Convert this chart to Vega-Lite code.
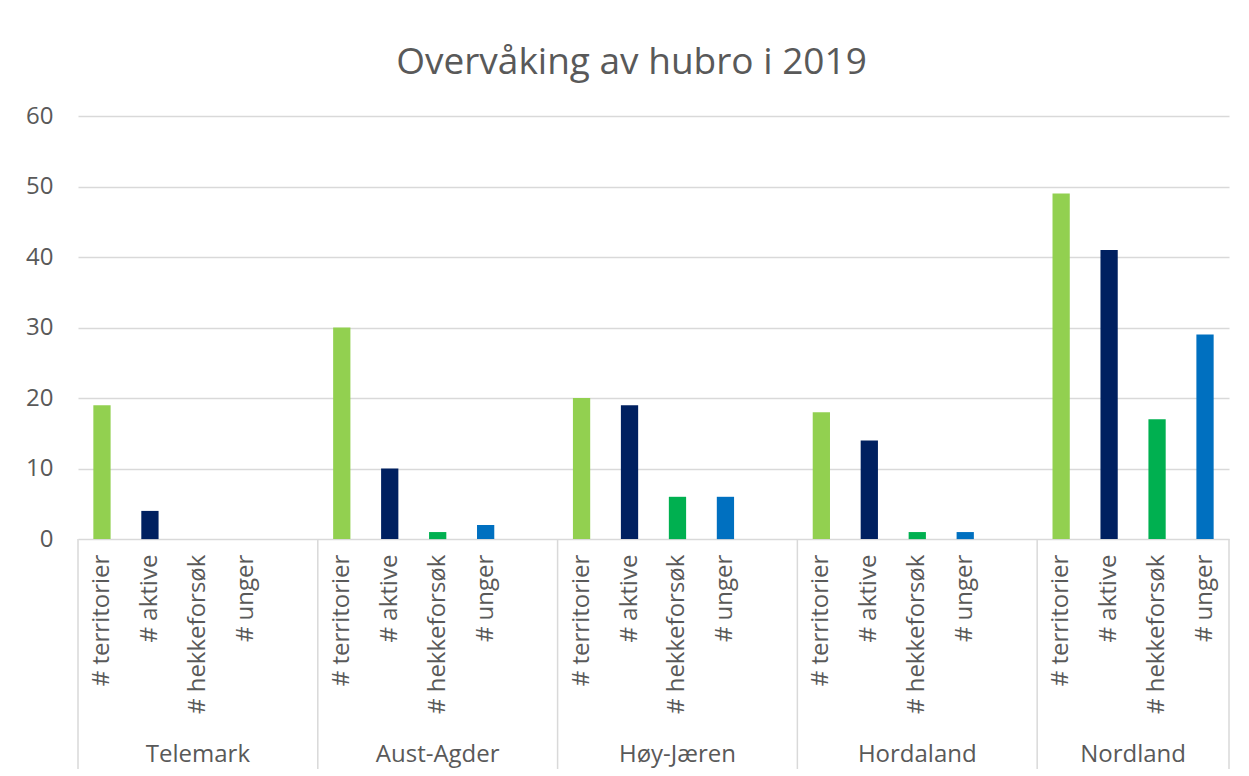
{
  "$schema": "https://vega.github.io/schema/vega-lite/v6.json",
  "width": 1151,
  "height": 653,
  "autosize": {"type": "none"},
  "padding": {"left": 78, "top": 116, "right": 20, "bottom": 7},
  "background": "white",
  "title": {
    "text": "Overvåking av hubro i 2019",
    "fontSize": 37,
    "fontWeight": "normal",
    "color": "#595959",
    "font": "Open Sans",
    "anchor": "middle",
    "offset": 22,
    "dx": -22
  },
  "config": {
    "font": "Open Sans",
    "view": {"stroke": null}
  },
  "datasets": {
    "bars": [
      {"group": "Telemark", "item": "# territorier", "slot": "Telemark|# territorier", "value": 19},
      {"group": "Telemark", "item": "# aktive", "slot": "Telemark|# aktive", "value": 4},
      {"group": "Telemark", "item": "# hekkeforsøk", "slot": "Telemark|# hekkeforsøk", "value": 0},
      {"group": "Telemark", "item": "# unger", "slot": "Telemark|# unger", "value": 0},
      {"group": "Aust-Agder", "item": "# territorier", "slot": "Aust-Agder|# territorier", "value": 30},
      {"group": "Aust-Agder", "item": "# aktive", "slot": "Aust-Agder|# aktive", "value": 10},
      {"group": "Aust-Agder", "item": "# hekkeforsøk", "slot": "Aust-Agder|# hekkeforsøk", "value": 1},
      {"group": "Aust-Agder", "item": "# unger", "slot": "Aust-Agder|# unger", "value": 2},
      {"group": "Høy-Jæren", "item": "# territorier", "slot": "Høy-Jæren|# territorier", "value": 20},
      {"group": "Høy-Jæren", "item": "# aktive", "slot": "Høy-Jæren|# aktive", "value": 19},
      {"group": "Høy-Jæren", "item": "# hekkeforsøk", "slot": "Høy-Jæren|# hekkeforsøk", "value": 6},
      {"group": "Høy-Jæren", "item": "# unger", "slot": "Høy-Jæren|# unger", "value": 6},
      {"group": "Hordaland", "item": "# territorier", "slot": "Hordaland|# territorier", "value": 18},
      {"group": "Hordaland", "item": "# aktive", "slot": "Hordaland|# aktive", "value": 14},
      {"group": "Hordaland", "item": "# hekkeforsøk", "slot": "Hordaland|# hekkeforsøk", "value": 1},
      {"group": "Hordaland", "item": "# unger", "slot": "Hordaland|# unger", "value": 1},
      {"group": "Nordland", "item": "# territorier", "slot": "Nordland|# territorier", "value": 49},
      {"group": "Nordland", "item": "# aktive", "slot": "Nordland|# aktive", "value": 41},
      {"group": "Nordland", "item": "# hekkeforsøk", "slot": "Nordland|# hekkeforsøk", "value": 17},
      {"group": "Nordland", "item": "# unger", "slot": "Nordland|# unger", "value": 29}
    ],
    "groups": [
      {"group": "Telemark", "start": "Telemark|# territorier", "mid": "Telemark|# hekkeforsøk"},
      {"group": "Aust-Agder", "start": "Aust-Agder|# territorier", "mid": "Aust-Agder|# hekkeforsøk"},
      {"group": "Høy-Jæren", "start": "Høy-Jæren|# territorier", "mid": "Høy-Jæren|# hekkeforsøk"},
      {"group": "Hordaland", "start": "Hordaland|# territorier", "mid": "Hordaland|# hekkeforsøk"},
      {"group": "Nordland", "start": "Nordland|# territorier", "mid": "Nordland|# aktive"}
    ],
    "ends": [
      {"end": "Nordland|# unger"}
    ]
  },
  "layer": [
    {
      "data": {"name": "bars"},
      "mark": {"type": "bar", "width": {"band": 0.36}},
      "encoding": {
        "x": {
          "field": "slot",
          "type": "nominal",
          "sort": null,
          "axis": null,
          "scale": {
            "domain": [
              "Telemark|# territorier", "Telemark|# aktive", "Telemark|# hekkeforsøk", "Telemark|# unger", "Telemark|",
              "Aust-Agder|# territorier", "Aust-Agder|# aktive", "Aust-Agder|# hekkeforsøk", "Aust-Agder|# unger", "Aust-Agder|",
              "Høy-Jæren|# territorier", "Høy-Jæren|# aktive", "Høy-Jæren|# hekkeforsøk", "Høy-Jæren|# unger", "Høy-Jæren|",
              "Hordaland|# territorier", "Hordaland|# aktive", "Hordaland|# hekkeforsøk", "Hordaland|# unger", "Hordaland|",
              "Nordland|# territorier", "Nordland|# aktive", "Nordland|# hekkeforsøk", "Nordland|# unger"
            ],
            "paddingInner": 0,
            "paddingOuter": 0
          }
        },
        "y": {
          "field": "value",
          "type": "quantitative",
          "scale": {"domain": [-32.6, 60], "nice": false, "zero": false},
          "axis": {
            "title": null,
            "values": [0, 10, 20, 30, 40, 50, 60],
            "domain": false,
            "ticks": false,
            "grid": true,
            "gridColor": "#d9d9d9",
            "gridWidth": 1.5,
            "labelFontSize": 24,
            "labelColor": "#595959",
            "labelPadding": 25,
            "labelFont": "Open Sans"
          }
        },
        "color": {
          "field": "item",
          "type": "nominal",
          "legend": null,
          "scale": {
            "domain": ["# territorier", "# aktive", "# hekkeforsøk", "# unger"],
            "range": ["#92D050", "#002060", "#00B050", "#0070C0"]
          }
        }
      }
    },
    {
      "data": {"name": "bars"},
      "mark": {"type": "text", "angle": 270, "align": "right", "baseline": "middle", "fontSize": 24, "color": "#595959"},
      "encoding": {
        "x": {"field": "slot", "type": "nominal", "axis": null},
        "y": {"datum": -2.2},
        "text": {"field": "item"}
      }
    },
    {
      "data": {"name": "groups"},
      "mark": {"type": "rule", "color": "#d9d9d9", "strokeWidth": 1.5},
      "encoding": {
        "x": {"field": "start", "type": "nominal", "bandPosition": 0, "axis": null},
        "y": {"datum": 0},
        "y2": {"datum": -32.6}
      }
    },
    {
      "data": {"name": "ends"},
      "mark": {"type": "rule", "color": "#d9d9d9", "strokeWidth": 1.5},
      "encoding": {
        "x": {"field": "end", "type": "nominal", "bandPosition": 1, "axis": null},
        "y": {"datum": 0},
        "y2": {"datum": -32.6}
      }
    },
    {
      "data": {"name": "groups"},
      "transform": [{"filter": "datum.group != 'Nordland'"}],
      "mark": {"type": "text", "align": "center", "baseline": "alphabetic", "fontSize": 24, "color": "#595959"},
      "encoding": {
        "x": {"field": "mid", "type": "nominal", "bandPosition": 0.5, "axis": null},
        "y": {"datum": -31.6},
        "text": {"field": "group"}
      }
    },
    {
      "data": {"name": "groups"},
      "transform": [{"filter": "datum.group == 'Nordland'"}],
      "mark": {"type": "text", "align": "center", "baseline": "alphabetic", "fontSize": 24, "color": "#595959"},
      "encoding": {
        "x": {"field": "mid", "type": "nominal", "bandPosition": 1, "axis": null},
        "y": {"datum": -31.6},
        "text": {"field": "group"}
      }
    }
  ]
}
